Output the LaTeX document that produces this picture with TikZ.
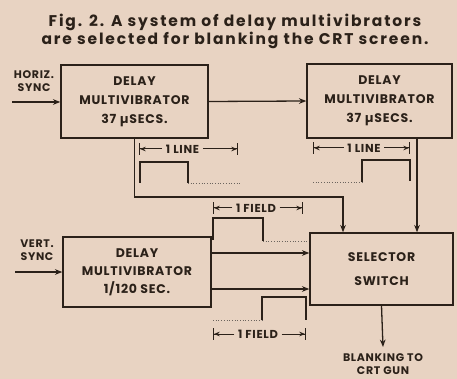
\documentclass[tikz,border=0pt]{standalone}
\usepackage{fontspec}
\setmainfont{Poppins}
\newfontfamily\capsfont{Poppins}[LetterSpace=6]
\newfontfamily\titlefont{Poppins}[LetterSpace=12]
\usetikzlibrary{arrows.meta,positioning}
\definecolor{PaperTan}{HTML}{E8D3C2}
\definecolor{InkBrown}{HTML}{2B2119}
\tikzset{
  mvbox/.style={draw=InkBrown,line width=1.4pt,align=center,text=InkBrown,inner sep=0pt,
    font=\capsfont\bfseries\fontsize{12.5}{19}\selectfont},
  sigarrow/.style={-{Stealth[length=2.6mm,width=2mm]},line width=1.3pt,draw=InkBrown},
  pulse/.style={line width=1.1pt,draw=InkBrown},
  trail/.style={dotted,line width=0.7pt,draw=InkBrown!70},
  dimtext/.style={font=\capsfont\bfseries\fontsize{11.5}{12}\selectfont,text=InkBrown,inner sep=3.5pt},
  dimarrow/.style={-{Stealth[length=2mm,width=1.6mm]Bar[width=4mm]},line width=1pt,draw=InkBrown},
  sidelabel/.style={align=center,text=InkBrown,font=\capsfont\bfseries\fontsize{11}{13}\selectfont}
}

\begin{document}
\begin{tikzpicture}[x=1pt,y=-1pt]
\fill[PaperTan] (0,0) rectangle (457,379);
\useasboundingbox (0,0) rectangle (457,379);

\node[align=center,text=InkBrown,font=\titlefont\bfseries\fontsize{15.5}{18}\selectfont] (title) at (235,31)
  {Fig. 2. A system of delay multivibrators\\are selected for blanking the CRT screen.};

% the three delay stages and the selector
\node[mvbox,minimum width=147pt,minimum height=73pt] (dm1) at (134.5,101.5) {DELAY\\MULTIVIBRATOR\\37 µSECS.};
\node[mvbox,minimum width=145pt,minimum height=74pt] (dm2) at (379.5,101) {DELAY\\MULTIVIBRATOR\\37 µSECS.};
\node[mvbox,minimum width=148pt,minimum height=70pt,font=\capsfont\bfseries\fontsize{12.5}{18}\selectfont] (dm3) at (137,272) {DELAY\\MULTIVIBRATOR\\1/120 SEC.};
\node[mvbox,minimum width=143pt,minimum height=72pt,font=\capsfont\bfseries\fontsize{12.5}{24}\selectfont] (sel) at (381.5,269) {SELECTOR\\SWITCH};

\node[sidelabel] (hsync) at (34,81) {HORIZ.\\SYNC};
\node[sidelabel] (vsync) at (37,250) {VERT.\\SYNC};
\node[sidelabel,inner sep=0pt,anchor=north] (blank) at (383,353) {BLANKING TO\\CRT GUN};

\coordinate (hin) at (12,102);
\coordinate (vin) at (15,272);
\coordinate (lineTap) at (343,197);
\coordinate (dropB) at (417,0);

\draw[sigarrow] (hin) -- (hin -| dm1.west);
\draw[sigarrow] (dm1.east) -- (dm2.west);
\draw[sigarrow] (dm1.south) |- (lineTap) -- (lineTap |- sel.north);
\draw[sigarrow] (dm2.south -| dropB) -- (sel.north -| dropB);
\draw[sigarrow] (vin) -- (vin -| dm3.west);
\foreach \yy in {253,289}
  \draw[sigarrow] (dm3.east |- 0,\yy) -- (sel.west |- 0,\yy);
\draw[sigarrow] (sel.south) -- ([yshift=6pt]blank.north);

% timing marks
\foreach \nm/\cx/\yy/\lx/\rx/\txt in {lineA/182.5/149/139/238/1 LINE, lineB/364/148/313/410/1 LINE,
    fieldA/256/208/213/303/1 FIELD, fieldB/258/334/213/306/1 FIELD}{
  \node[dimtext] (\nm) at (\cx,\yy) {\txt};
  \coordinate (\nm L) at (\lx,\yy);
  \coordinate (\nm R) at (\rx,\yy);
  \draw[dimarrow] (\nm.west) -- (\nm L);
  \draw[dimarrow] (\nm.east) -- (\nm R);
}

% pulses
\draw[pulse] (140,183) -- (140,162) -- (188,162) -- (188,183);
\draw[trail] (188,183) -- (240,183);
\draw[trail] (313,182) -- (362,182);
\draw[pulse] (362,182) -- (362,160) -- (410,160) -- (410,181);
\draw[pulse] (213,240) -- (213,218) -- (263,218) -- (263,241);
\draw[trail] (263,241) -- (307,241);
\draw[trail] (213,320) -- (262,320);
\draw[pulse] (262,320) -- (262,297) -- (306,297) -- (306,320);
\end{tikzpicture}
\end{document}
